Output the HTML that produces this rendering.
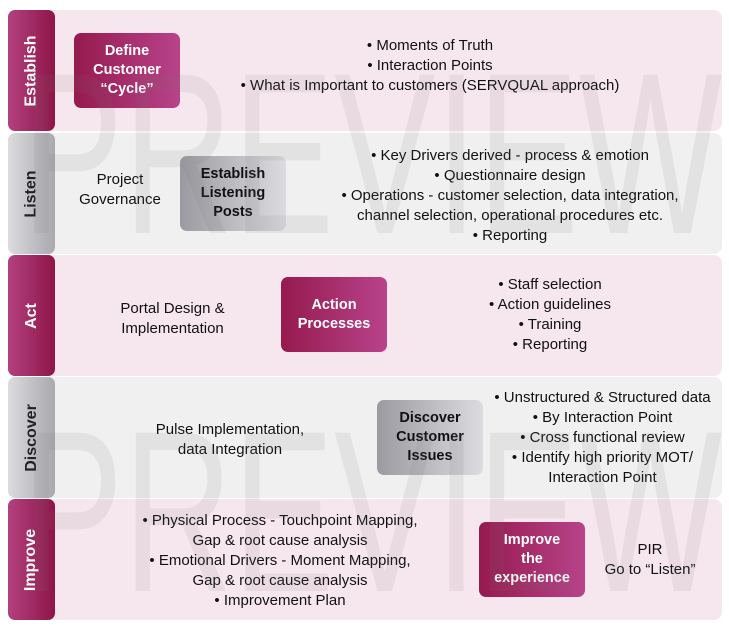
<!DOCTYPE html>
<html><head><style>
body{margin:0;width:729px;height:634px;background:#fff;position:relative;overflow:hidden;font-family:"Liberation Sans",sans-serif;}
.row{position:absolute;left:8px;width:714px;height:121px;border-radius:8px;}
.pk{background:#f6e7ee;}
.gy{background:#f0f0f1;}
.side{position:absolute;left:8px;width:47px;height:121px;border-radius:7px;}
.sp{background:linear-gradient(90deg,#b3417f,#8e1548);}
.sg{background:linear-gradient(90deg,#dcdcdf,#a8a8ad);}
.lab{position:absolute;left:8px;width:47px;height:121px;display:flex;align-items:center;justify-content:center;}
.lab span{transform:rotate(-90deg);font-weight:bold;font-size:16px;white-space:nowrap;}
.box{position:absolute;width:106px;height:75px;border-radius:7px;display:flex;align-items:center;justify-content:center;text-align:center;font-weight:bold;font-size:14.5px;line-height:19px;}
.bp{background:linear-gradient(90deg,#951a4e,#b8438a);color:#fff;}
.bg{background:linear-gradient(90deg,#9a9aa0,#dcdce0);color:#111;}
.t{position:absolute;text-align:center;font-size:15px;line-height:20px;color:#111;white-space:nowrap;}
.wm{position:absolute;left:22px;font-size:230px;color:rgba(120,120,120,0.11);white-space:nowrap;line-height:1;transform:scaleX(0.66);transform-origin:0 0;}
</style></head><body>
<div class="row pk" style="top:10px"></div>
<div class="row gy" style="top:133px"></div>
<div class="row pk" style="top:255px"></div>
<div class="row gy" style="top:377px"></div>
<div class="row pk" style="top:499px"></div>
<div class="side sp" style="top:10px"></div>
<div class="side sg" style="top:133px"></div>
<div class="side sp" style="top:255px"></div>
<div class="side sg" style="top:377px"></div>
<div class="side sp" style="top:499px"></div>
<div class="lab" style="top:10px;color:#fff"><span>Establish</span></div>
<div class="lab" style="top:133px;color:#222"><span>Listen</span></div>
<div class="lab" style="top:255px;color:#fff"><span>Act</span></div>
<div class="lab" style="top:377px;color:#222"><span>Discover</span></div>
<div class="lab" style="top:499px;color:#fff"><span>Improve</span></div>

<div class="box bp" style="left:74px;top:33px">Define<br>Customer<br>“Cycle”</div>
<div class="box bg" style="left:180px;top:156px">Establish<br>Listening<br>Posts</div>
<div class="box bp" style="left:281px;top:277px">Action<br>Processes</div>
<div class="box bg" style="left:377px;top:400px">Discover<br>Customer<br>Issues</div>
<div class="box bp" style="left:479px;top:522px">Improve<br>the<br>experience</div>

<div class="t" style="left:230px;width:400px;top:36px">• Moments of Truth<br>• Interaction Points<br>• What is Important to customers (SERVQUAL approach)</div>
<div class="t" style="left:70px;width:100px;top:170px">Project<br>Governance</div>
<div class="t" style="left:300px;width:420px;top:146px">• Key Drivers derived - process &amp; emotion<br>• Questionnaire design<br>• Operations - customer selection, data integration,<br>channel selection, operational procedures etc.<br>• Reporting</div>
<div class="t" style="left:100px;width:145px;top:299px">Portal Design &amp;<br>Implementation</div>
<div class="t" style="left:470px;width:160px;top:275px">• Staff selection<br>• Action guidelines<br>• Training<br>• Reporting</div>
<div class="t" style="left:130px;width:200px;top:420px">Pulse Implementation,<br>data Integration</div>
<div class="t" style="left:490px;width:225px;top:388px">• Unstructured &amp; Structured data<br>• By Interaction Point<br>• Cross functional review<br>• Identify high priority MOT/<br>Interaction Point</div>
<div class="t" style="left:120px;width:320px;top:511px">• Physical Process - Touchpoint Mapping,<br>Gap &amp; root cause analysis<br>• Emotional Drivers - Moment Mapping,<br>Gap &amp; root cause analysis<br>• Improvement Plan</div>
<div class="t" style="left:600px;width:100px;top:540px">PIR<br>Go to “Listen”</div>

<div class="wm" style="top:39px">PREVIEW</div>
<div class="wm" style="top:397px">PREVIEW</div>
</body></html>
